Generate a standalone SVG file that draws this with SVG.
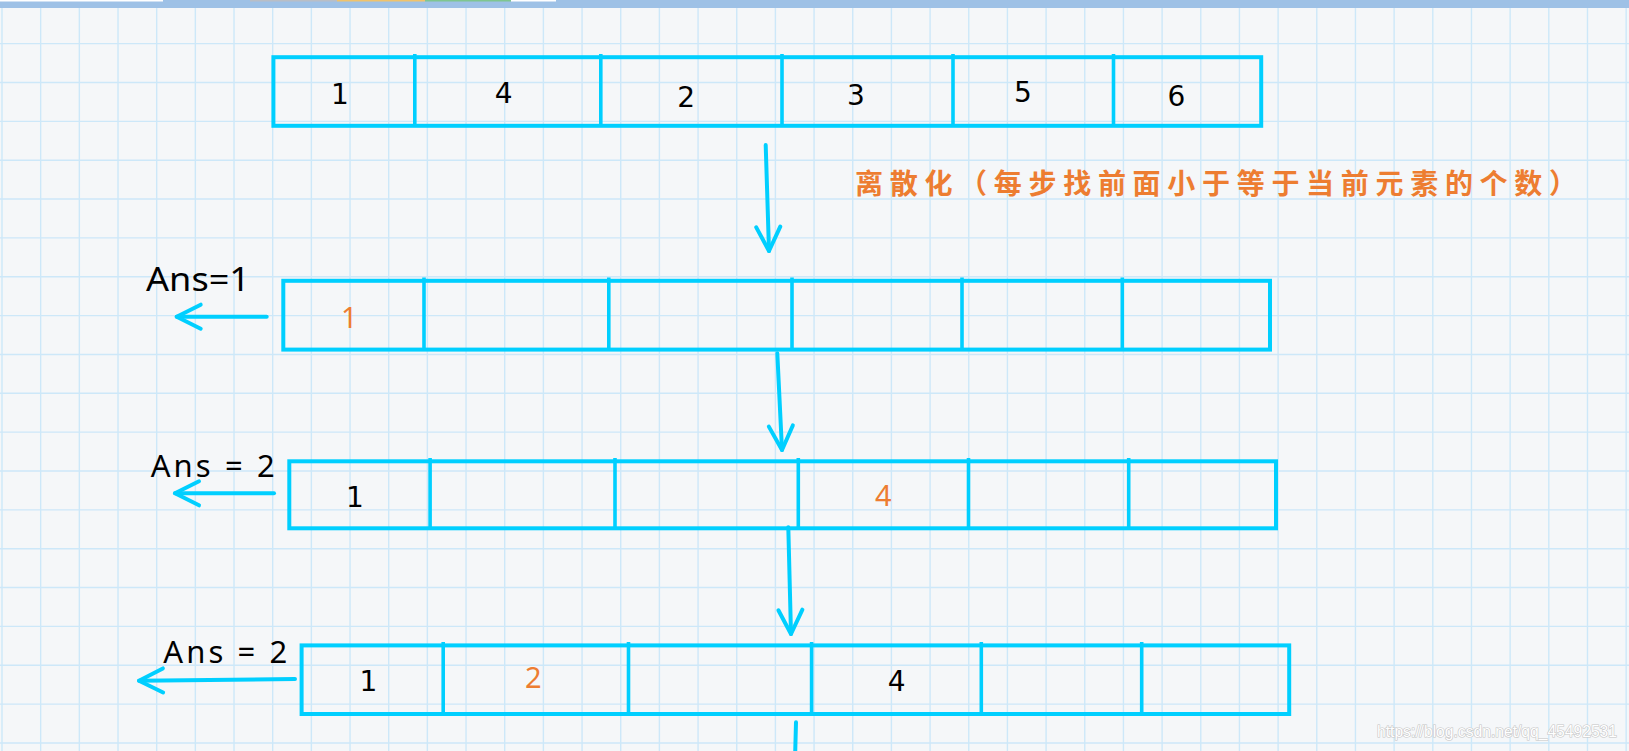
<svg xmlns="http://www.w3.org/2000/svg" width="1629" height="751" viewBox="0 0 1629 751">
<style>
.grid{stroke:#cde8f9;stroke-width:1.4;fill:none}
.box{fill:none;stroke:#00cfff;stroke-width:4;stroke-linejoin:miter}
.div{stroke:#00cfff;stroke-width:3.6;fill:none}
.arrow{fill:none;stroke:#00cfff;stroke-width:4;stroke-linecap:round;stroke-linejoin:round}
.num{font-family:"DejaVu Sans","Noto Sans",sans-serif;font-size:28px;fill:#000;text-anchor:middle}
.onum{font-family:"Noto Sans","Liberation Sans",sans-serif;font-size:29px;fill:#ed7d31;text-anchor:middle}
.ans{font-family:"Noto Sans","Liberation Sans",sans-serif;fill:#000}
.cap{font-family:"Noto Sans CJK SC","Noto Sans CJK JP",sans-serif;font-size:28px;font-weight:700;fill:#ed7d31}
.wm{font-family:"Liberation Sans",Arial,sans-serif;font-size:16px;fill:#ffffff;stroke:#c4c4c4;stroke-width:1.2;paint-order:stroke}
</style>
<defs>
<marker id="ah" markerUnits="userSpaceOnUse" markerWidth="40" markerHeight="40" viewBox="-30 -20 40 40" refX="0" refY="0" orient="auto" overflow="visible">
<path d="M-24,-12 L0,0 L-24,12" fill="none" stroke="#00cfff" stroke-width="4" stroke-linecap="round" stroke-linejoin="round"/>
</marker>
</defs>
<rect x="0" y="0" width="1629" height="751" fill="#f5f7f9"/>
<g id="grid">
<path class="grid" d="M2,0V751M40.67,0V751M79.34,0V751M118.01,0V751M156.68,0V751M195.35,0V751M234.02,0V751M272.69,0V751M311.36,0V751M350.03,0V751M388.7,0V751M427.37,0V751M466.04,0V751M504.71,0V751M543.38,0V751M582.05,0V751M620.72,0V751M659.39,0V751M698.06,0V751M736.73,0V751M775.4,0V751M814.07,0V751M852.74,0V751M891.41,0V751M930.08,0V751M968.75,0V751M1007.42,0V751M1046.09,0V751M1084.76,0V751M1123.43,0V751M1162.1,0V751M1200.77,0V751M1239.44,0V751M1278.11,0V751M1316.78,0V751M1355.45,0V751M1394.12,0V751M1432.79,0V751M1471.46,0V751M1510.13,0V751M1548.8,0V751M1587.47,0V751M1626.14,0V751"/>
<path class="grid" d="M0,43.65H1629M0,82.5H1629M0,121.35H1629M0,160.2H1629M0,199.05H1629M0,237.9H1629M0,276.75H1629M0,315.6H1629M0,354.45H1629M0,393.3H1629M0,432.15H1629M0,471H1629M0,509.85H1629M0,548.7H1629M0,587.55H1629M0,626.4H1629M0,665.25H1629M0,704.1H1629M0,742.95H1629"/>
</g>
<g id="topbar">
<rect x="0" y="0" width="1629" height="8" fill="#9ec1e6"/>
<rect x="0" y="0" width="163" height="1.5" fill="#ffffff"/>
<rect x="250" y="0" width="87" height="1.5" fill="#b9bec6"/>
<rect x="337" y="0" width="88" height="1.5" fill="#f0c36c"/>
<rect x="425" y="0" width="86" height="1.5" fill="#7fc690"/>
<rect x="511" y="0" width="45" height="1.5" fill="#ffffff"/>
</g>
<g id="array0">
<rect class="box" x="273.4" y="57.2" width="987.8" height="68.6"/>
<path class="div" d="M414.8,54V125.8M600.8,54V125.8M782,54V125.8M953,54V125.8M1113.5,54V125.8"/>
<text class="num" x="339.8" y="104">1</text>
<text class="num" x="503.6" y="103.3">4</text>
<text class="num" x="686.2" y="107.3">2</text>
<text class="num" x="856" y="105">3</text>
<text class="num" x="1023" y="101.7">5</text>
<text class="num" x="1176.4" y="106">6</text>
</g>
<g id="caption">
<text class="cap" x="855" y="194" textLength="722" lengthAdjust="spacing">离散化（每步找前面小于等于当前元素的个数）</text>
</g>
<g id="array1">
<rect class="box" x="283.3" y="280.8" width="986.7" height="68.8"/>
<path class="div" d="M424,277.5V349.6M608.8,277.5V349.6M792,277.5V349.6M962,277.5V349.6M1122.3,277.5V349.6"/>
<text class="onum" x="349.3" y="328.3">1</text>
</g>
<g id="ans1">
<text class="ans" x="146" y="290.7" font-size="33" textLength="104" lengthAdjust="spacingAndGlyphs">Ans=1</text>
</g>
<g id="array2">
<rect class="box" x="289.3" y="461.3" width="986.7" height="67"/>
<path class="div" d="M430.1,458V528.3M615,458V528.3M798.3,458V528.3M968.5,458V528.3M1128.7,458V528.3"/>
<text class="num" x="355" y="507.3">1</text>
<text class="onum" x="883.3" y="506">4</text>
</g>
<g id="ans2">
<text class="ans" x="150.7" y="477.3" font-size="31" textLength="124" lengthAdjust="spacing">Ans = 2</text>
</g>
<g id="array3">
<rect class="box" x="301.6" y="645.4" width="987.6" height="68.6"/>
<path class="div" d="M443.2,642V714M628.5,642V714M811.6,642V714M981.3,642V714M1141.7,642V714"/>
<text class="num" x="368.3" y="691">1</text>
<text class="onum" x="533.3" y="688.3">2</text>
<text class="num" x="896.7" y="691">4</text>
</g>
<g id="ans3">
<text class="ans" x="163.3" y="662.7" font-size="31" textLength="124" lengthAdjust="spacing">Ans = 2</text>
</g>
<g id="connectors">
<path class="arrow" d="M765.7,145 L769,251" marker-end="url(#ah)"/>
<path class="arrow" d="M777.3,353.3 L782,450" marker-end="url(#ah)"/>
<path class="arrow" d="M788.3,527.3 L791,634" marker-end="url(#ah)"/>
<path class="arrow" d="M796,722.3 L795,760"/>
<path class="arrow" d="M266.7,316.7 L176.7,316.7" marker-end="url(#ah)"/>
<path class="arrow" d="M274,493.3 L175,493.3" marker-end="url(#ah)"/>
<path class="arrow" d="M295,679 L139,680.7" marker-end="url(#ah)"/>
</g>
<g id="watermark">
<text class="wm" x="1377" y="737" textLength="240" lengthAdjust="spacingAndGlyphs">https://blog.csdn.net/qq_45492531</text>
</g>
</svg>
